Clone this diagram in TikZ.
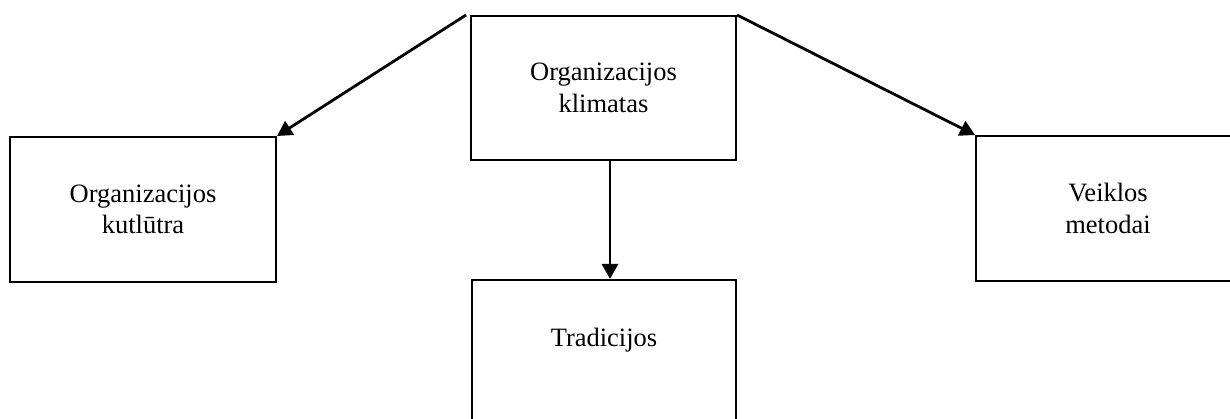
\documentclass[tikz,border=0pt]{standalone}
\usepackage{fontspec}
\setmainfont{Liberation Serif}
\usetikzlibrary{arrows.meta}
\begin{document}
\begin{tikzpicture}[x=1pt,y=-1pt,
  box/.style={draw, line width=2pt, inner sep=0pt, align=center,
    font=\fontsize{26.5}{31.5}\selectfont},
  lbl/.style={inner sep=0pt, font=\fontsize{26.5}{31.5}\selectfont},
  conn/.style={line width=2.8pt, -{Triangle[length=15pt,width=16pt]}}]
\useasboundingbox (0,0) rectangle (1230,419);
\clip (0,0) rectangle (1230,419);
\node[box, minimum width=265pt, minimum height=144pt] (clim) at (603.5,88) {Organizacijos\\klimatas};
\node[box, minimum width=266pt, minimum height=145pt] (cult) at (143,209.5) {Organizacijos\\kutlūtra};
\node[box, minimum width=264pt, minimum height=145pt] (meth) at (1108,208.5) {Veiklos\\metodai};
\node[box, minimum width=264pt, minimum height=144pt] (trad) at (604,352) {};
\node[lbl] (tradtxt) at (604,340) {Tradicijos};
\draw[conn] ([xshift=-4pt]clim.north west) -- (cult.north east);
\draw[conn] (clim.north east) -- (meth.north west);
\draw[conn] ([xshift=6.5pt]clim.south) -- ([xshift=6pt]trad.north);
\end{tikzpicture}
\end{document}
